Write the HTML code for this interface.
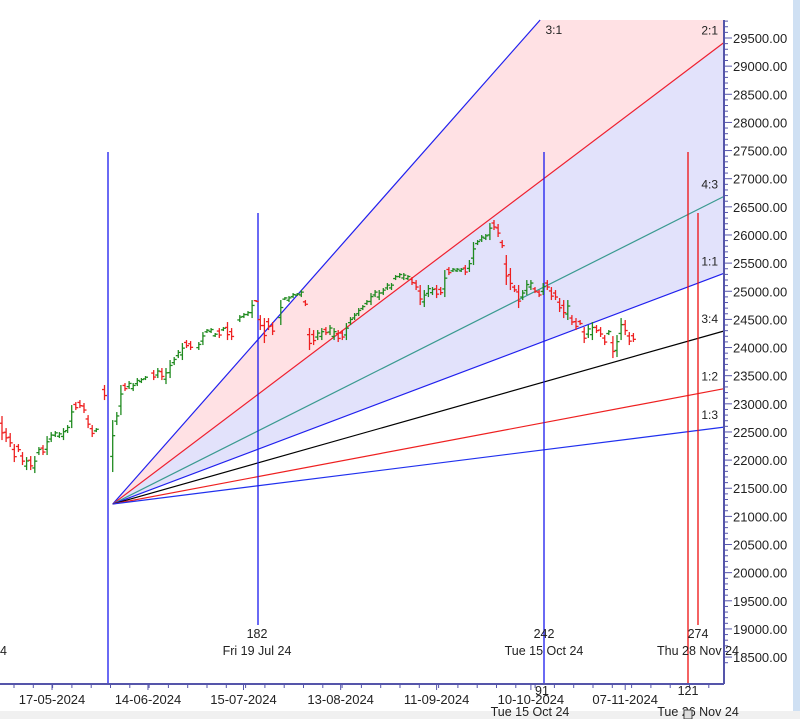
<!DOCTYPE html>
<html><head><meta charset="utf-8">
<style>
html,body{margin:0;padding:0;background:#fff;}
body{width:800px;height:719px;overflow:hidden;font-family:"Liberation Sans",sans-serif;}
svg text{font-family:"Liberation Sans",sans-serif;}
</style></head>
<body>
<svg id="chart" width="800" height="719" xmlns="http://www.w3.org/2000/svg">
<rect x="0" y="711" width="800" height="8" fill="#f0f0f0"/>
<rect x="793" y="0" width="7" height="711" fill="#cfe0f3"/>
<g id="shade"></g><g id="fan"></g><g id="vlines"></g><g id="bars"></g><g id="axes"></g><g id="labels"></g>
</svg>
<script>
// ---- data ----
const days = [0,1,2,3,4,5,6,7,8,9,10,11,12,13,14,15,16,17,18,19,20,21,22,23,25,27,28,29,30,31,32,33,34,35,37,38,39,40,41,42,43,44,45,46,48,49,50,51,52,53,54,55,56,58,59,60,61,62,63,64,65,66,68,69,70,71,72,73,74,75,76,77,78,79,80,81,82,83,84,85,86,87,88,89,90,91,92,93,94,95,96,97,98,99,100,101,102,103,104,105,106,107,108,109,110,111,112,113,114,115,116,117,118,119,120,121,122,123,124,125,126,127,128,129,130,131,132,133,134,135,136,137,138,139,140,141,142,143,144,145,146,147,148,149,150,151,152,153,154];
const highs = [22783,22569,22481,22285,22285,22143,22054,22072,22072,22232,22267,22427,22498,22516,22498,22569,22623,22978,23031,23067,23014,22800,22623,22569,23334,22711,22854,23334,23369,23405,23369,23458,23458,23494,23600,23636,23636,23636,23778,23831,23956,24080,24133,24115,24098,24275,24329,24346,24258,24346,24364,24453,24346,24577,24613,24648,24844,24844,24577,24524,24524,24453,24844,24897,24915,24968,24968,25022,24844,24346,24311,24311,24346,24364,24400,24346,24311,24311,24435,24542,24613,24702,24755,24844,24968,25022,25022,25057,25146,25146,25288,25324,25324,25288,25253,25199,25111,25022,25111,25075,25111,25075,25377,25430,25413,25413,25413,25466,25555,25875,25910,25999,26017,26212,26266,26195,25910,25644,25413,25111,25111,25022,25199,25199,25075,25022,25146,25199,25075,25022,24880,24844,24844,24577,24524,24489,24364,24400,24453,24400,24364,24222,24311,24204,24222,24524,24489,24275,24258];
const lows = [22356,22321,22232,21965,22143,21912,21823,21823,21770,22090,22090,22090,22321,22410,22392,22356,22481,22569,22889,22925,22836,22569,22410,22498,23067,21788,22623,22800,23227,23263,23227,23316,23369,23422,23422,23458,23422,23351,23458,23689,23813,23778,23991,23956,23956,24044,24258,24258,24187,24169,24293,24133,24133,24453,24524,24560,24524,24808,24311,24080,24311,24222,24400,24844,24808,24879,24915,24897,24737,23956,24044,24133,24133,24222,24222,24133,24098,24133,24133,24400,24489,24560,24666,24755,24755,24897,24844,24933,25022,25022,25199,25235,25199,25199,25111,25022,24755,24720,24897,24933,24879,24933,24897,25288,25342,25342,25342,25288,25342,25466,25821,25875,25910,25910,26088,25964,25768,25111,25022,24986,24702,24844,24933,25022,24968,24897,24933,25022,24844,24844,24631,24524,24489,24400,24311,24400,24080,24169,24133,24258,24187,24044,24222,23813,23831,24133,24222,24044,24098];
const dirs = [-1,-1,-1,-1,-1,-1,1,-1,1,1,-1,1,1,1,1,1,1,1,-1,-1,-1,-1,-1,1,-1,1,1,1,-1,1,1,1,1,1,-1,1,-1,1,1,1,1,1,-1,-1,1,1,1,1,1,-1,1,-1,-1,1,1,1,1,-1,-1,-1,-1,-1,1,1,1,1,1,1,-1,-1,-1,1,1,-1,1,1,-1,-1,1,1,1,1,1,1,1,1,1,1,1,1,1,1,1,1,-1,-1,-1,1,1,1,-1,-1,1,-1,1,1,1,-1,1,1,1,1,1,1,-1,-1,-1,-1,-1,-1,-1,1,1,1,-1,-1,1,-1,-1,-1,-1,-1,1,-1,-1,-1,-1,1,1,-1,-1,-1,1,-1,1,1,-1,-1,-1];
const fanNames = ["3:1","2:1","4:3","1:1","3:4","1:2","1:3"];
const fanRatios = [3,2,1.3333,1,0.75,0.5,0.3333];
const fanColors = ["#2020ee","#ee2030","#3a9a90","#2020ee","#000000","#ee2020","#2030ee"];
const fanOriginDay = 27, fanOriginPrice = 21219, fanUnit = 27.5; // price per day for 1:1
const yTicks = [29500,29000,28500,28000,27500,27000,26500,26000,25500,25000,24500,24000,23500,23000,22500,22000,21500,21000,20500,20000,19500,19000,18500];
const dateLabels = ["17-05-2024","14-06-2024","15-07-2024","13-08-2024","11-09-2024","10-10-2024","07-11-2024"];
const dateDays = [12.2,35.6,58.9,82.6,106,129,152];

// ---- scales ----
const X0=2, STEP=4.1, PLOT_R=724, PLOT_T=20, PLOT_B=684;
const xS = d => X0 + d*STEP;
const yS = v => 38 + (29500 - v)/500*28.14;
const NS="http://www.w3.org/2000/svg";
function mk(tag, attrs, parent){const e=document.createElementNS(NS,tag);for(const k in attrs)e.setAttribute(k,attrs[k]);parent.appendChild(e);return e;}
const G = id => document.getElementById(id);

// ---- fan lines & shading ----
const ox=xS(fanOriginDay), oy=yS(fanOriginPrice);
function fanEnd(r){ // intersection with right edge or top
  const dEnd=(PLOT_R-X0)/STEP; const p=fanOriginPrice+r*fanUnit*(dEnd-fanOriginDay);
  let x=PLOT_R, y=yS(p);
  if(y<PLOT_T){ const pt=29500-(PLOT_T-38)/28.14*500; const d=fanOriginDay+(pt-fanOriginPrice)/(r*fanUnit); x=xS(d); y=PLOT_T; }
  return [x,y];
}
const e0=fanEnd(fanRatios[0]), e1=fanEnd(fanRatios[1]), e3=fanEnd(fanRatios[3]);
const pink=mk('polygon',{points:`${ox},${oy} ${e0[0]},${e0[1]} ${PLOT_R},${PLOT_T} ${e1[0]},${e1[1]}`,fill:'#ffe1e4'},G('shade'));


const lav=mk('polygon',{points:`${ox},${oy} ${e1[0]},${e1[1]} ${e3[0]},${e3[1]}`,fill:'#e2e2fb'},G('shade'));


fanRatios.forEach((r,i)=>{
  const e=fanEnd(r);
  const l=mk('line',{x1:ox,y1:oy,x2:e[0],y2:e[1],stroke:fanColors[i],'stroke-width':1.2},G('fan'));
  
  
  const t=mk('text',{x:i===0?e[0]+22:PLOT_R-6,y:i===0?34:e[1]-8,'font-size':12,'text-anchor':'end',fill:'#222'},G('labels'));
  t.textContent=fanNames[i];
  
  
});

// ---- vertical cycle lines ----
const vls=[[108,152,684,'#1a1aee'],[258,213,625,'#1a1aee'],[544,152,684,'#1a1aee'],[688,152,684,'#ee1010'],[698,213,625,'#ee1010']];
vls.forEach((v,i)=>{
  const l=mk('line',{x1:v[0],y1:v[1],x2:v[0],y2:v[2],stroke:v[3],'stroke-width':1.3},G('vlines'));
  
  
});

// ---- OHLC bars ----
days.forEach((d,i)=>{
  const x=xS(d), h=highs[i], lo=lows[i], up=dirs[i]>0;
  const col=up?'#1f8a1f':'#ee2020';
  const o=up?lo+(h-lo)*0.3:h-(h-lo)*0.3, c=up?h-(h-lo)*0.3:lo+(h-lo)*0.3;
  const g=mk('g',{stroke:col,'stroke-width':1.3},G('bars'));
  
  
  mk('line',{x1:x,y1:yS(h),x2:x,y2:yS(lo)},g);
  mk('line',{x1:x-2.5,y1:yS(o),x2:x,y2:yS(o)},g);
  mk('line',{x1:x,y1:yS(c),x2:x+2.5,y2:yS(c)},g);
});

// ---- axes ----
const ax=G('axes');
const ya=mk('line',{x1:PLOT_R,y1:PLOT_T,x2:PLOT_R,y2:PLOT_B,stroke:'#5555aa','stroke-width':2},ax);


const xa=mk('line',{x1:0,y1:PLOT_B,x2:PLOT_R,y2:PLOT_B,stroke:'#5555aa','stroke-width':2},ax);


for(let v=18400; v<=29800; v+=100){const y=yS(v); if(y<PLOT_T||y>PLOT_B) continue; mk('line',{x1:PLOT_R,y1:y,x2:PLOT_R+(v%500===0?8:4),y2:y,stroke:'#5555aa','stroke-width':1},ax);}
yTicks.forEach(v=>{
  const t=mk('text',{x:733,y:yS(v)+5,'font-size':13,fill:'#222'},ax);
  t.textContent=v.toFixed(2);
  
  
});
for(let x=14;x<PLOT_R;x+=19.3){mk('line',{x1:x,y1:PLOT_B,x2:x,y2:PLOT_B+4,stroke:'#5555aa'},ax);}
dateLabels.forEach((s,i)=>{
  const x=xS(dateDays[i]);
  mk('line',{x1:x,y1:PLOT_B,x2:x,y2:PLOT_B+6,stroke:'#5555aa'},ax);
  const t=mk('text',{x:x,y:704,'font-size':13,'text-anchor':'middle',fill:'#222'},ax);
  t.textContent=s;
  
  
});

// ---- annotation labels ----
const anns=[[257,638,'182'],[257,655,'Fri 19 Jul 24'],[544,638,'242'],[544,655,'Tue 15 Oct 24'],[698,638,'274'],[698,655,'Thu 28 Nov 24'],[0,655,'4'],[542,695,'91'],[530,716,'Tue 15 Oct 24'],[688,695,'121'],[698,716,'Tue 26 Nov 24']];
anns.forEach(a=>{
  const t=mk('text',{x:a[0],y:a[1],'font-size':12.5,'text-anchor':a[2]==='4'?'end':'middle',fill:'#222'},G('labels'));
  if(a[2]==='4') t.setAttribute('x',7);
  t.textContent=a[2];
  
  
});
const sq=mk('rect',{x:684,y:710,width:8,height:9,fill:'#ddd',stroke:'#444'},G('labels'));


</script>
</body></html>
